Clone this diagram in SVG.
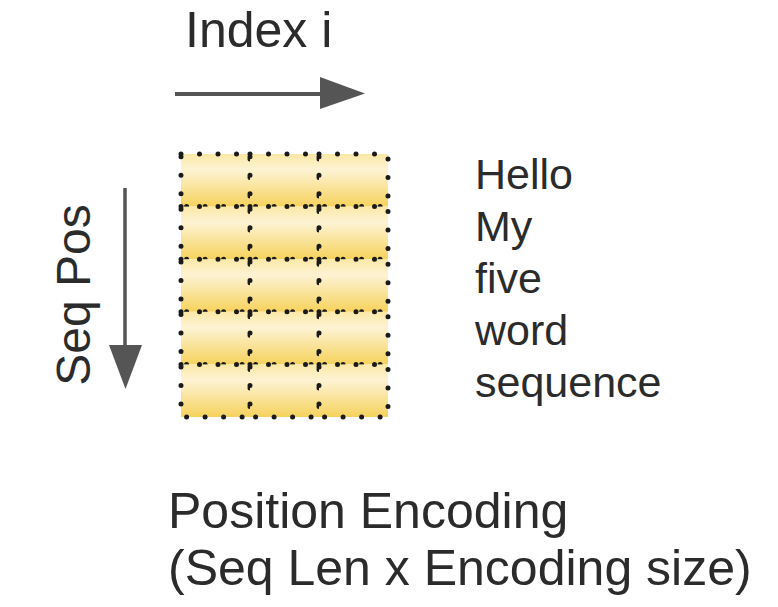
<svg xmlns="http://www.w3.org/2000/svg" width="778" height="607" viewBox="0 0 778 607">
  <style>
    .t { font-family: "Liberation Sans", Arial, sans-serif; fill: #2b2b2b; }
    .big { font-size: 50px; }
    .word { font-size: 43px; }
    .cell { fill: url(#cellGrad); stroke: #1a1a1a; stroke-width: 5; stroke-dasharray: 0 18.5; stroke-linecap: round; }
    .arrow { stroke: #555555; fill: none; }
    .head { fill: #555555; }
  </style>
  <defs>
    <linearGradient id="cellGrad" x1="0" y1="0" x2="0" y2="1">
      <stop offset="0" stop-color="#fbe8a6"/>
      <stop offset="0.3" stop-color="#fdf3d4"/>
      <stop offset="1" stop-color="#f6d25c"/>
    </linearGradient>
  </defs>
  <rect width="778" height="607" fill="#ffffff"/>

  <g id="grid">
    <rect class="cell" x="181" y="154" width="69" height="52.6"/>
    <rect class="cell" x="250" y="154" width="69" height="52.6"/>
    <rect class="cell" x="319" y="154" width="69" height="52.6"/>
    <rect class="cell" x="181" y="206.6" width="69" height="52.6"/>
    <rect class="cell" x="250" y="206.6" width="69" height="52.6"/>
    <rect class="cell" x="319" y="206.6" width="69" height="52.6"/>
    <rect class="cell" x="181" y="259.2" width="69" height="52.6"/>
    <rect class="cell" x="250" y="259.2" width="69" height="52.6"/>
    <rect class="cell" x="319" y="259.2" width="69" height="52.6"/>
    <rect class="cell" x="181" y="311.8" width="69" height="52.6"/>
    <rect class="cell" x="250" y="311.8" width="69" height="52.6"/>
    <rect class="cell" x="319" y="311.8" width="69" height="52.6"/>
    <rect class="cell" x="181" y="364.4" width="69" height="52.6"/>
    <rect class="cell" x="250" y="364.4" width="69" height="52.6"/>
    <rect class="cell" x="319" y="364.4" width="69" height="52.6"/>
  </g>

  <g id="connectors">
    <line class="arrow" x1="175" y1="94" x2="322" y2="94" stroke-width="4"/>
    <polygon class="head" points="320,77 365,93.5 320,109"/>
    <line class="arrow" x1="125" y1="188" x2="125" y2="347" stroke-width="3.5"/>
    <polygon class="head" points="109,345 142,345 125.5,389"/>
  </g>

  <g id="label-index">
    <text class="t big" x="185" y="47">Index i</text>
  </g>
  <g id="label-seqpos">
    <text class="t" font-size="48" text-anchor="middle" transform="translate(90,295) rotate(-90)">Seq Pos</text>
  </g>
  <g id="words">
    <text class="t word" x="475" y="189">Hello</text>
    <text class="t word" x="475" y="241">My</text>
    <text class="t word" x="475" y="293">five</text>
    <text class="t word" x="475" y="345">word</text>
    <text class="t word" x="475" y="397">sequence</text>
  </g>
  <g id="caption">
    <text class="t big" x="168" y="528">Position Encoding</text>
    <text class="t big" x="168" y="585">(Seq Len x Encoding size)</text>
  </g>
</svg>
